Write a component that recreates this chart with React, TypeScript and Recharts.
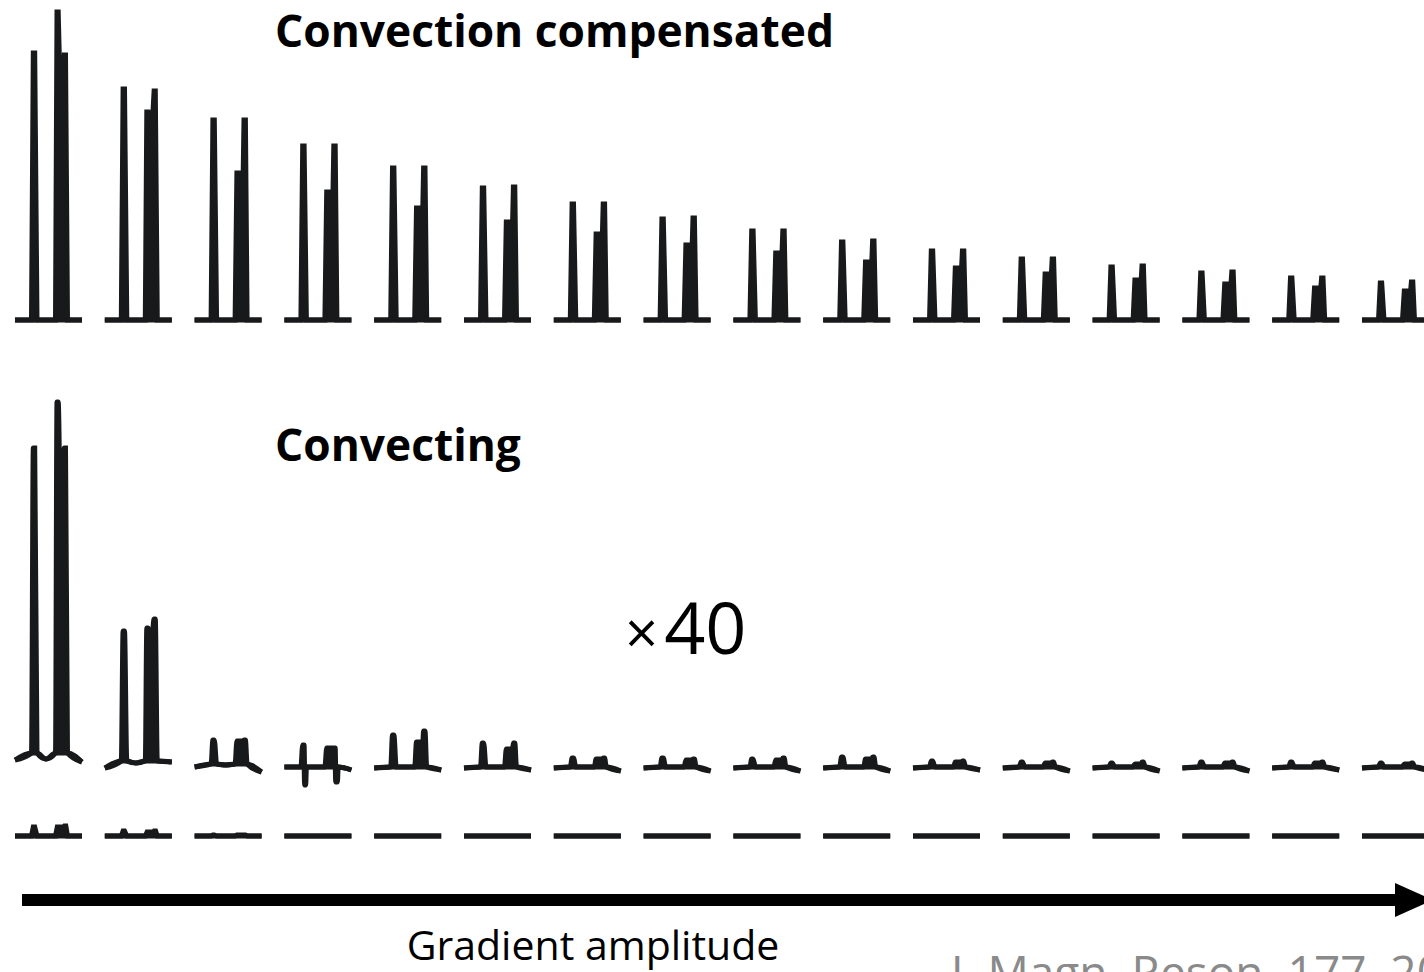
import { ComposedChart, Area, XAxis, YAxis, ReferenceLine } from 'recharts';

// gradient steps, one spectrum per step
const gradientSteps = [1, 2, 3, 4, 5, 6, 7, 8, 9, 10, 11, 12, 13, 14, 15, 16];

// convection compensated (top row), peak heights above baseline
const compA = [267, 231, 200, 174, 152, 132, 116, 101, 89, 78, 69, 61, 53, 47, 42, 37];
const compB = [308, 208, 147, 128, 112, 98, 86, 75, 67, 58, 52, 46, 40, 36, 32, 29];
const compC = [265, 229, 200, 174, 152, 133, 116, 102, 89, 79, 69, 61, 54, 48, 42, 38];
const compDip = [193, 168, null, null, null, null, null, null, null, null, null, null, null, null, null, null];

// convecting, x40 (middle row)
const convA = [320, 137, 28, 23, 33, 25, 10, 10, 9, 11, 7, 6, 5, 6, 6, 5];
const convB = [366, 140, 27, 20, 26, 19, 9, 8, 8, 9, 6, 5, 4, 5, 5, 4];
const convC = [320, 149, 28, 20, 37, 25, 10, 9, 10, 11, 7, 6, 6, 6, 6, 5];
const convDip = [214, 112, null, null, null, null, null, null, null, null, null, null, null, null, null, null];
const convNegA = [0, 0, 0, -17, 0, 0, 0, 0, 0, 0, 0, 0, 0, 0, 0, 0];
const convNegC = [0, 0, 0, -14, 0, 0, 0, 0, 0, 0, 0, 0, 0, 0, 0, 0];
const convStart = [8, 0, 1, 1, 0, 0, 0, 0, 0, 0, 0, 0, 0, 0, 0, 0];
const convFoot = [15, 7, 4, 1, 1, 1, 1, 1, 1, 1, 1, 1, 1, 1, 1, 1];
const convValley = [9, 5, 3, 1, 1, 1, 1, 1, 1, 1, 1, 1, 1, 1, 1, 1];
const convEnd = [6, 6, -4, -2, -2, -2, -3, -3, -3, -3, -2, -3, -3, -3, -2, -2];

// convecting, x1 (bottom row)
const rawA = [9, 5, 1, 0, 0, 0, 0, 0, 0, 0, 0, 0, 0, 0, 0, 0];
const rawB = [9, 4, 1, 0, 0, 0, 0, 0, 0, 0, 0, 0, 0, 0, 0, 0];
const rawC = [10, 5, 1, 0, 0, 0, 0, 0, 0, 0, 0, 0, 0, 0, 0, 0];

const zeros = gradientSteps.map(() => 0);
const noDip = gradientSteps.map(() => null);

const STEP = 89.8;
const INK = '#18191a';

type Pt = { x: number; v: [number | null, number | null] };

const buildRow = (
  a: number[], b: number[], c: number[], dip: (number | null)[],
  negA: number[], negC: number[], start: number[], foot: number[], valley: number[], end: number[],
): Pt[] => {
  const pts: Pt[] = [];
  gradientSteps.forEach((_, i) => {
    const f = foot[i];
    const rows: [number, number, number][] = [[0, start[i], start[i]], [16.5, f, f]];
    rows.push([18.3, f, a[i]], [19.7, f, a[i]]);
    if (negA[i]) rows.push([20.2, negA[i], f], [21.3, negA[i], f]);
    rows.push([22, f, f], [31, valley[i], valley[i]], [40.5, f, f]);
    if (dip[i] != null) {
      rows.push([42, f, b[i]], [43.2, f, b[i]], [46, f, dip[i] as number], [49.3, f, c[i]], [50.5, f, c[i]]);
    } else {
      rows.push([42.3, f, b[i]], [48.6, f, b[i]], [49.4, f, c[i]], [50.8, f, c[i]]);
    }
    if (negC[i]) rows.push([51.3, negC[i], f], [53, negC[i], f]);
    rows.push([negC[i] ? 53.8 : 52.5, f, f], [67, end[i], end[i]]);
    rows.forEach(([off, lo, hi]) => pts.push({ x: i + off / STEP, v: [lo, hi] }));
    pts.push({ x: i + 0.82, v: [null, null] });
  });
  return pts;
};

const topRow = buildRow(compA, compB, compC, compDip, zeros, zeros, zeros, zeros, zeros, zeros);
const midRow = buildRow(convA, convB, convC, convDip, convNegA, convNegC, convStart, convFoot, convValley, convEnd);
const botRow = buildRow(rawA, rawB, rawC, noDip, zeros, zeros, zeros, zeros, zeros, zeros);

const ArrowShape = (p: any) => {
  const { x1, y1, x2, y2 } = p;
  return (
    <g>
      <line x1={x1} y1={y1} x2={x2} y2={y2} stroke="#000" strokeWidth={12} />
      <polygon points={`${x2},${y2 - 17} ${x2 + 38},${y2} ${x2},${y2 + 17}`} fill="#000" />
    </g>
  );
};

const font = '"Open Sans", "Noto Sans", sans-serif';

export default function App() {
  return (
    <div style={{ position: 'absolute', left: 0, top: 0, background: '#fff' }}>
      <ComposedChart width={1424} height={972} margin={{ top: 0, right: 0, bottom: 0, left: 0 }}>
        <XAxis type="number" dataKey="x" domain={[-15 / STEP, 1409 / STEP]} allowDataOverflow hide />
        <YAxis yAxisId="top" type="number" domain={[-652, 320]} allowDataOverflow hide />
        <YAxis yAxisId="mid" type="number" domain={[-204, 768]} allowDataOverflow hide />
        <YAxis yAxisId="bot" type="number" domain={[-136, 836]} allowDataOverflow hide />
        <Area yAxisId="top" data={topRow} dataKey="v" type="linear" stroke={INK} strokeWidth={5}
          fill={INK} fillOpacity={1} isAnimationActive={false} dot={false} activeDot={false} />
        <Area yAxisId="mid" data={midRow} dataKey="v" type="monotone" stroke={INK} strokeWidth={5}
          fill={INK} fillOpacity={1} isAnimationActive={false} dot={false} activeDot={false} />
        <Area yAxisId="bot" data={botRow} dataKey="v" type="linear" stroke={INK} strokeWidth={5}
          fill={INK} fillOpacity={1} isAnimationActive={false} dot={false} activeDot={false} />
        <ReferenceLine yAxisId="bot" segment={[{ x: 7 / STEP, y: -64 }, { x: 1380 / STEP, y: -64 }]}
          shape={ArrowShape} />
        <text x={275} y={47} fontFamily={font} fontWeight={700} fontSize={44.3} fill="#000">
          Convection compensated
        </text>
        <text x={275} y={461} fontFamily={font} fontWeight={700} fontSize={44.3} fill="#000">
          Convecting
        </text>
        <text x={625} y={654} fontFamily={font} fontSize={72} fill="#000">
          <tspan fontSize={58}>×</tspan>
          <tspan dx={6}>40</tspan>
        </text>
        <text x={593} y={960} fontFamily={font} fontSize={41} fill="#000" textAnchor="middle">
          Gradient amplitude
        </text>
        <text x={951} y={989} fontFamily={font} fontSize={46} fill="#8a8a8a">
          J. Magn. Reson. 177, 20
        </text>
      </ComposedChart>
    </div>
  );
}
